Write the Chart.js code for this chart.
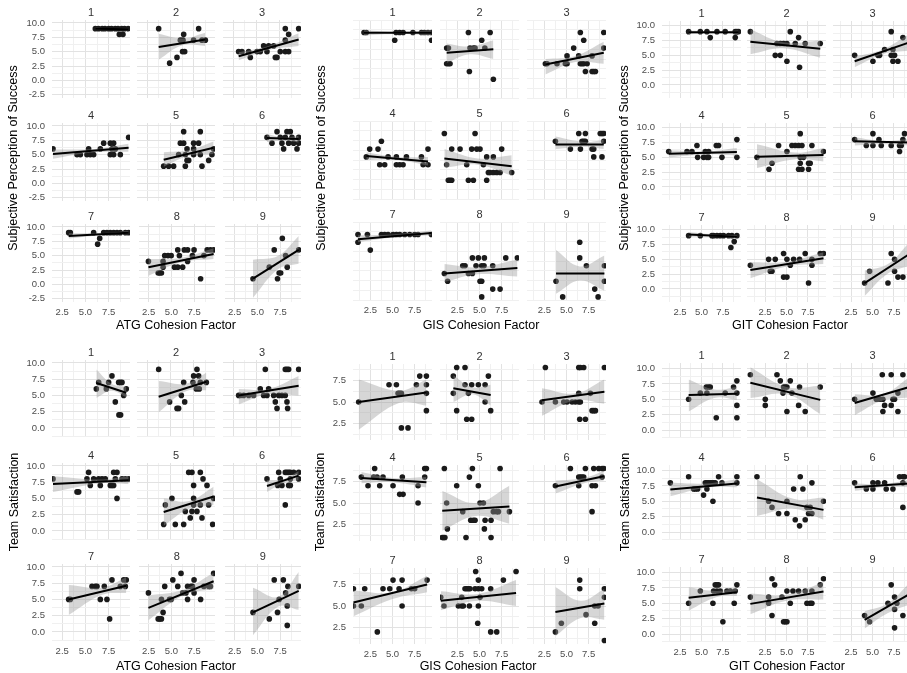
<!DOCTYPE html>
<html><head><meta charset="utf-8">
<script src="https://cdn.jsdelivr.net/npm/chart.js@4.4.1/dist/chart.umd.min.js"></script>
<style>
body{margin:0;background:#fff;width:907px;height:673px;overflow:hidden;position:relative;font-family:"Liberation Sans",Arial,sans-serif}
canvas{position:absolute}
.t{position:absolute;font-size:12.5px;color:#000;white-space:nowrap;line-height:1}
.yt{transform:translate(-50%,-50%) rotate(-90deg)}
.xt{transform:translate(-50%,-50%)}
</style></head><body>
<script>
// ---------------- DATA ----------------
const facets = ['1','2','3','4','5','6','7','8','9'];
const xTickLabels = [2.5, 5, 7.5];
const yTicksAtgSuccess = [-2.5, 0, 2.5, 5, 7.5, 10];
const yTicksGisSuccess = [2.5, 5, 7.5, 10];
const yTicksGitSuccess = [0, 2.5, 5, 7.5, 10];
const yTicksAtgTeam = [0, 2.5, 5, 7.5, 10];
const yTicksGisTeam = [2.5, 5, 7.5];
const yTicksGitTeam = [0, 2.5, 5, 7.5, 10];
const axisTitles = ['ATG Cohesion Factor','GIS Cohesion Factor','GIT Cohesion Factor','Subjective Perception of Success','Team Satisfaction'];

// ATG cohesion vs subjective perception of success
const atgSuccessPoints = [
 [[6.06,9],[6.4,9],[6.8,9],[7.1,9],[7.5,9],[7.8,9],[8.2,9],[8.5,9],[8.9,9],[9.2,9],[9.6,9],[8.64,8],[9.03,8]],
 [[3.73,9],[4.91,3],[5.7,4],[6.06,7],[6.35,7],[6.42,8],[6.53,5],[6.3,5],[7.49,7],[8.03,9],[8.39,7],[8.75,7]],
 [[3.08,5],[3.44,5],[4.16,5],[4.34,4],[5.06,5],[5.41,5],[5.77,6],[6.13,5],[6.31,6],[6.85,6],[7.03,4],[7.21,4],[7.56,5],[8.1,5],[8.46,5],[8.1,7],[8.1,9],[8.46,8],[9.54,9]],
 [[1.51,6],[4.09,5],[4.45,5],[5.16,5],[5.34,6],[5.52,5],[5.88,5],[6.6,6],[6.96,7],[7.67,7],[8.03,7],[7.85,6],[7.67,5],[8.03,5],[8.75,5],[8.21,6],[9.64,8]],
 [[4.27,3],[4.8,3],[5.34,3],[6.6,3],[8.39,3],[6.42,9],[8.21,9],[6.06,7],[6.42,7],[7.49,7],[8.03,7],[6.78,6],[7.49,6],[9.64,6],[5.88,5],[6.6,5],[7.49,5],[8.21,5],[9.46,5],[6.96,4],[9.11,4],[6.78,4]],
 [[6.13,8],[7.21,9],[6.67,7],[7.56,8],[7.74,7],[8.1,8],[8.28,9],[8.64,9],[8.46,7],[7.92,6],[8.82,8],[9.0,7],[9.36,6],[9.54,8],[9.54,7]],
 [[3.19,9],[3.37,9],[5.88,9],[6.53,8],[6.31,7],[6.96,9],[7.31,9],[7.67,9],[8.03,9],[8.39,9],[8.75,9],[9.29,9],[9.64,9]],
 [[2.48,4],[3.55,2],[3.73,2],[3.91,2],[4.09,4],[4.27,5],[4.09,3],[4.63,5],[4.98,5],[5.34,3],[5.7,6],[5.88,5],[5.7,3],[6.24,3],[6.42,6],[6.78,6],[6.78,4],[7.31,5],[7.49,6],[8.21,1],[8.93,6],[9.29,6],[9.64,6],[8.57,5]],
 [[4.52,1],[6.31,3],[6.85,6],[7.21,1],[7.39,2],[7.56,2],[7.74,8],[8.1,5],[8.28,3],[9.54,6]]
];
const atgSuccessLines = [
 [6.06,9.0,9.6,8.9],[3.73,5.8,8.75,7.1],[3.08,4.2,9.54,7.1],
 [1.51,5.1,9.64,6.2],[4.27,4.1,9.64,6.2],[6.13,7.9,9.54,7.7],
 [3.19,8.4,9.64,9.0],[2.48,3.0,9.64,5.3],[4.52,1.0,9.54,6.0]
];
const atgSuccessBands = [
 [[6.06,8.75,9.2],[7.8,8.85,9.05],[9.6,8.7,9.1]],
 [[3.73,3.6,8.1],[6.3,6.1,7.3],[8.75,6.0,8.3]],
 [[3.08,3.5,4.9],[6.3,5.3,6.0],[9.54,6.0,8.2]],
 [[1.51,4.3,5.9],[6.0,5.4,6.0],[9.64,5.5,6.9]],
 [[4.27,2.9,5.4],[7.0,4.8,5.8],[9.64,5.1,7.3]],
 [[6.13,7.2,8.6],[7.9,7.5,8.0],[9.54,7.1,8.3]],
 [[3.19,8.0,8.9],[7.0,8.6,8.95],[9.64,8.7,9.3]],
 [[2.48,1.5,4.4],[6.0,3.8,4.6],[9.64,4.4,6.3]],
 [[4.52,-2.3,4.3],[7.3,2.7,5.0],[9.54,3.6,8.4]]
];

// GIS cohesion vs subjective perception of success
const gisSuccessPoints = [
 [[1.79,9],[2.05,9],[5.25,8],[5.4,9],[5.8,9],[6.2,9],[7.3,9],[8.26,9],[8.6,9],[9.0,9],[9.4,9],[9.4,8]],
 [[1.3,7],[1.5,7],[1.3,5],[1.5,5],[1.68,5],[3.75,9],[3.86,4],[3.93,7],[4.3,7],[4.5,7],[5.25,8],[5.6,7],[6.2,9],[6.56,3]],
 [[2.62,5],[2.81,5],[3.93,5],[4.87,5],[5.06,6],[5.06,5],[5.81,7],[6.37,6],[6.56,9],[6.56,5],[6.75,5],[6.94,5],[6.94,8],[7.13,4],[7.32,5],[7.88,4],[8.07,4],[8.26,4],[7.88,6],[9.2,9],[9.2,7]],
 [[2.05,6],[2.43,7],[3.37,7],[3.75,8],[3.56,5],[4.12,5],[4.5,6],[5.44,5],[5.81,5],[6.19,5],[5.44,6],[6.57,6],[8.26,6],[8.45,5],[9.0,7],[9.0,5]],
 [[1.04,9],[1.3,5],[1.87,7],[2.81,7],[3.56,5],[4.5,9],[4.12,7],[4.69,7],[5.06,7],[5.81,6],[6.56,6],[7.5,7],[5.44,5],[1.49,3],[1.68,3],[1.87,3],[3.75,3],[4.31,3],[5.81,3],[6.0,4],[6.19,4],[6.56,4],[6.94,4],[7.32,4],[8.63,4]],
 [[3.75,8],[5.44,7],[6.57,7],[6.38,9],[7.13,9],[6.75,8],[6.94,8],[7.13,8],[7.88,7],[8.07,7],[8.07,6],[9.0,6],[8.8,9],[9.0,9],[9.2,9],[9.2,8]],
 [[1.11,9],[1.11,8],[2.17,9],[2.5,7],[3.75,9],[4.12,9],[4.5,9],[5.06,9],[5.44,9],[5.81,9],[6.38,9],[6.94,9],[7.5,9],[7.88,9],[9.38,9]],
 [[1.04,4],[1.41,3],[3.11,5],[3.37,5],[3.75,4],[4.2,4],[4.2,6],[4.61,5],[4.87,6],[5.06,3],[5.25,3],[5.25,1],[5.25,5],[5.51,5],[5.55,6],[6.49,5],[6.49,2],[7.32,2],[7.96,6],[9.27,6]],
 [[3.82,3],[4.57,1],[6.49,8],[6.49,6],[7.24,5],[8.18,2],[8.56,1],[9.27,5],[9.27,3]]
];
const gisSuccessLines = [
 [1.79,8.95,9.4,8.95],[1.3,6.4,6.56,6.85],[2.62,4.9,9.2,6.4],
 [2.05,6.1,9.0,5.4],[1.04,5.8,8.63,4.8],[3.75,7.6,9.2,7.6],
 [1.11,8.4,9.38,9.2],[1.04,4.0,9.27,4.7],[3.82,4.0,9.27,4.0]
];
const gisSuccessBands = [
 [[1.79,8.6,9.3],[5.6,8.8,9.1],[9.4,8.6,9.3]],
 [[1.3,5.1,7.6],[3.9,6.2,7.2],[6.56,5.6,8.0]],
 [[2.62,3.6,5.6],[6.0,5.2,6.0],[9.2,5.0,7.8]],
 [[2.05,5.6,6.6],[5.5,5.6,6.0],[9.0,4.9,6.0]],
 [[1.04,4.6,7.0],[4.8,5.0,5.8],[8.63,3.6,6.2]],
 [[3.75,7.0,8.6],[7.0,7.3,7.9],[9.2,7.0,8.2]],
 [[1.11,8.0,8.9],[5.0,8.6,9.0],[9.38,8.9,9.5]],
 [[1.04,2.9,5.2],[4.8,3.9,4.8],[9.27,3.6,5.8]],
 [[3.82,1.4,7.0],[6.5,3.1,4.9],[9.27,1.8,6.3]]
];

// GIT cohesion vs subjective perception of success
const gitSuccessPoints = [
 [[3.5,9],[4.86,9],[5.63,9],[6.02,8],[6.8,9],[7.76,9],[8.93,9],[9.12,9],[9.31,9],[8.93,8]],
 [[0.79,9],[3.69,5],[4.28,5],[5.05,4],[5.44,9],[6.52,3],[6.41,8],[3.89,7],[4.28,7],[4.66,7],[5.05,7],[6.02,7],[7.18,7],[8.93,7]],
 [[2.92,5],[5.05,4],[5.63,5],[5.83,5],[6.41,6],[7.18,9],[7.38,6],[7.18,5],[7.57,5],[7.38,4],[7.96,4],[8.54,8]],
 [[1.18,6],[3.31,6],[3.89,6],[4.47,7],[4.55,5],[5.24,5],[5.44,6],[5.63,5],[5.83,5],[5.83,6],[6.72,7],[6.99,7],[7.38,5],[9.12,8],[9.12,5]],
 [[1.56,5],[2.96,3],[3.31,4],[4.08,7],[5.05,6],[5.63,7],[6.02,7],[6.41,7],[6.8,7],[6.6,9],[6.6,5],[6.99,5],[6.6,4],[7.96,7],[9.31,6],[7.57,4],[7.76,4],[6.41,3],[6.8,3],[7.57,3]],
 [[2.92,8],[4.28,7],[5.05,9],[5.05,7],[5.75,8],[6.02,7],[7.18,7],[8.15,7],[8.35,7],[8.15,6],[8.54,8],[8.73,9]],
 [[3.5,9],[4.86,9],[6.21,9],[6.41,9],[6.8,9],[7.18,9],[7.57,9],[8.15,9],[8.54,9],[9.12,9],[8.81,8],[8.42,7]],
 [[0.79,4],[2.92,5],[3.11,3],[3.31,3],[3.69,5],[4.66,6],[4.66,2],[5.05,2],[5.05,5],[5.44,4],[5.83,5],[6.52,5],[7.18,6],[7.57,1],[7.96,4],[7.96,5],[8.93,6],[9.31,6]],
 [[4.08,1],[4.66,3],[6.8,1],[7.18,6],[7.57,5],[7.57,3],[7.96,2],[8.54,2]]
];
const gitSuccessLines = [
 [3.5,8.9,9.31,8.9],[0.79,7.3,8.93,6.1],[2.92,4.0,9.3,7.2],
 [1.18,5.6,9.12,5.9],[1.56,5.1,9.31,5.4],[2.92,7.7,9.3,7.5],
 [3.5,9.2,9.12,8.8],[0.79,3.2,9.31,5.2],[4.08,1.0,9.3,5.9]
];
const gitSuccessBands = [
 [[3.5,8.6,9.2],[6.5,8.75,9.05],[9.31,8.6,9.2]],
 [[0.79,5.2,9.4],[4.6,6.2,7.2],[8.93,4.6,7.5]],
 [[2.92,3.0,4.8],[6.2,5.2,6.0],[9.3,5.8,8.6]],
 [[1.18,5.0,6.2],[5.5,5.5,6.0],[9.12,5.3,6.6]],
 [[1.56,3.2,7.2],[6.0,4.7,5.8],[9.31,4.3,6.6]],
 [[2.92,7.0,8.4],[6.2,7.2,7.8],[9.3,7.0,8.1]],
 [[3.5,8.8,9.6],[6.8,8.85,9.15],[9.12,8.5,9.1]],
 [[0.79,1.8,4.5],[5.0,3.8,4.6],[9.31,4.2,6.2]],
 [[4.08,-1.2,3.1],[6.8,2.6,4.2],[9.3,3.9,7.9]]
];

// ATG cohesion vs team satisfaction
const atgTeamPoints = [
 [[6.17,6],[6.42,7],[7.24,6],[7.49,7],[7.85,8],[8.21,4],[8.57,7],[8.75,7],[8.93,7],[8.6,2],[8.78,2],[9.11,5],[9.39,6]],
 [[3.73,9],[4.91,4],[5.7,3],[5.88,3],[6.17,5],[6.42,7],[6.53,4],[7.42,7],[7.49,8],[7.85,9],[8.03,8],[7.78,6],[8.1,6],[8.21,7],[8.86,7]],
 [[3.08,5],[3.26,5],[3.62,5],[4.16,5],[4.7,5],[5.41,6],[5.77,5],[5.95,9],[6.13,5],[6.31,6],[6.85,5],[7.39,5],[7.74,5],[7.03,4],[7.21,3],[8.1,9],[8.28,9],[8.46,9],[8.1,5],[8.28,4],[8.35,3],[9.54,9]],
 [[1.51,8],[4.09,6],[4.27,6],[5.34,9],[5.16,8],[5.52,7],[5.88,8],[6.42,8],[6.6,7],[6.78,8],[7.13,8],[7.67,7],[7.85,7],[8.03,7],[8.03,9],[8.39,9],[8.21,8],[8.39,5],[8.93,8],[9.29,8],[9.64,8]],
 [[6.96,9],[7.31,9],[8.21,9],[8.5,8],[7.49,7],[8.93,7],[5.16,5],[7.49,5],[9.64,5],[4.27,1],[4.45,4],[5.52,1],[6.42,1],[6.6,3],[7.13,2],[7.31,3],[7.85,3],[7.49,4],[8.21,4],[9.11,4],[8.39,2],[9.54,1]],
 [[6.13,8],[7.28,7],[7.39,9],[7.56,8],[7.74,7],[8.1,9],[8.28,9],[8.46,9],[8.64,9],[8.46,7],[8.64,7],[8.64,8],[9.0,9],[9.54,9],[9.54,8],[8.1,4]],
 [[3.19,5],[3.37,5],[5.7,7],[6.06,7],[6.24,7],[6.6,5],[7.03,7],[7.31,5],[7.6,2],[7.85,8],[8.75,7],[9.11,8],[9.39,8],[9.29,7]],
 [[2.48,6],[3.55,2],[3.73,2],[3.91,2],[4.09,3],[4.27,7],[3.91,5],[4.8,5],[4.98,5],[5.16,8],[5.7,7],[6.06,9],[6.24,6],[6.6,6],[6.78,5],[6.78,7],[7.13,7],[7.31,7],[7.49,8],[7.49,6],[8.21,5],[8.57,7],[9.11,7],[9.29,7],[9.64,9]],
 [[4.52,3],[6.31,2],[6.85,8],[7.21,3],[7.39,5],[7.85,8],[8.1,6],[8.28,4],[8.28,1],[8.35,7],[9.54,7]]
];
const atgTeamLines = [
 [6.17,6.9,9.39,5.4],[3.73,4.8,8.86,7.1],[3.08,5.0,9.54,6.5],
 [1.51,7.2,9.64,7.8],[4.27,2.9,9.64,5.3],[6.13,6.9,9.54,8.5],
 [3.19,5.0,9.39,7.1],[2.48,3.7,9.64,7.8],[4.52,3.0,9.54,6.3]
];
const atgTeamBands = [
 [[6.17,4.6,9.0],[7.8,5.7,6.8],[9.39,4.7,6.3]],
 [[3.73,2.4,7.2],[6.6,5.6,6.8],[8.86,5.8,8.5]],
 [[3.08,3.6,6.0],[6.3,5.2,6.0],[9.54,5.0,8.0]],
 [[1.51,6.0,8.4],[6.5,7.3,7.9],[9.64,7.2,8.4]],
 [[4.27,0.8,5.0],[7.0,3.4,4.6],[9.64,4.0,6.8]],
 [[6.13,6.0,7.8],[8.0,7.4,8.0],[9.54,7.8,9.2]],
 [[3.19,2.6,7.2],[6.8,5.7,6.8],[9.39,6.0,8.4]],
 [[2.48,1.8,5.6],[6.3,5.6,6.5],[9.64,6.6,9.1]],
 [[4.52,-0.5,6.8],[7.3,3.9,5.4],[9.54,3.4,9.2]]
];

// GIS cohesion vs team satisfaction
const gisTeamPoints = [
 [[1.19,5],[4.61,7],[5.44,7],[5.63,6],[5.81,6],[6.0,6],[6.0,2],[6.75,2],[7.69,7],[8.07,8],[8.82,8],[8.82,7],[8.82,6],[8.82,4]],
 [[2.05,8],[2.43,9],[3.37,9],[2.05,6],[2.43,4],[3.37,7],[3.75,6],[3.56,3],[4.12,3],[4.12,7],[4.87,7],[5.63,7],[5.63,5],[6.0,8],[6.26,4]],
 [[2.24,5],[2.62,9],[3.75,5],[4.69,5],[5.06,5],[5.63,5],[6.0,5],[6.38,5],[6.56,5],[6.38,6],[6.38,9],[6.56,9],[6.94,9],[6.49,3],[7.13,3],[7.69,6],[7.88,4],[8.07,4],[8.26,4],[9.27,9]],
 [[1.49,8],[2.24,7],[2.99,9],[2.88,8],[3.26,8],[3.56,7],[3.93,8],[5.06,7],[5.81,6],[6.19,6],[6.11,8],[7.88,7],[8.63,9],[8.82,9],[8.63,8],[7.88,5]],
 [[1.04,9],[2.43,7],[3.86,8],[4.2,9],[4.87,7],[7.32,9],[0.8,1],[0.95,1],[1.1,1],[1.3,5],[1.38,2],[3.11,4],[3.48,1],[4.01,3],[4.31,3],[4.5,3],[5.06,5],[5.44,5],[5.55,2],[5.63,3],[6.3,3],[6.3,1],[6.56,4],[6.94,4],[7.13,4],[8.37,4]],
 [[3.75,7],[5.44,9],[6.38,8],[6.56,8],[6.75,8],[6.94,8],[6.38,7],[7.13,9],[7.88,7],[8.26,7],[8.07,9],[8.63,9],[9.01,9],[9.2,9],[9.01,8],[7.88,4]],
 [[0.6,7],[0.6,5],[1.49,5],[1.87,7],[3.29,2],[3.93,7],[4.69,7],[5.06,8],[5.74,7],[6.08,8],[6.08,5],[7.13,7],[7.5,7],[8.9,8]],
 [[0.63,6],[1.0,5],[2.62,5],[3.0,5],[3.18,5],[3.0,6],[3.37,7],[3.56,7],[3.75,7],[3.93,7],[3.86,5],[4.5,7],[4.57,9],[4.87,8],[4.87,5],[4.87,7],[4.8,3],[5.25,7],[5.06,6],[6.26,7],[6.26,2],[6.94,2],[7.69,8],[9.12,9]],
 [[3.75,2],[4.42,3],[6.49,8],[6.49,7],[7.2,4],[8.18,5],[8.56,5],[8.18,3],[9.27,7],[9.27,6],[9.27,1]]
];
const gisTeamLines = [
 [1.19,5.0,8.82,6.1],[2.05,6.6,6.26,5.8],[2.24,5.2,9.27,6.2],
 [1.49,7.9,8.82,7.4],[0.8,4.1,8.37,4.6],[3.75,6.9,9.2,8.1],
 [0.6,5.4,8.9,7.5],[0.63,5.6,9.12,6.5],[3.75,4.3,9.27,5.3]
];
const gisTeamBands = [
 [[1.19,1.8,7.6],[5.8,4.9,6.3],[8.82,4.6,7.6]],
 [[2.05,5.0,8.1],[4.2,5.9,6.7],[6.26,4.6,7.0]],
 [[2.24,3.4,6.6],[6.0,5.2,6.0],[9.27,4.8,7.6]],
 [[1.49,7.3,8.6],[5.0,7.4,7.9],[8.82,6.8,8.0]],
 [[0.8,1.8,6.4],[4.6,3.5,5.0],[8.37,2.6,7.0]],
 [[3.75,6.1,7.6],[7.0,7.3,7.9],[9.2,7.6,8.7]],
 [[0.6,3.8,6.8],[5.0,5.8,6.6],[8.9,6.6,8.5]],
 [[0.63,4.5,6.7],[4.8,5.6,6.4],[9.12,5.0,8.0]],
 [[3.75,1.5,7.2],[6.6,3.6,5.6],[9.27,3.4,7.0]]
];

// GIT cohesion vs team satisfaction
const gitTeamPoints = [
 [[3.5,5],[4.86,6],[5.56,7],[5.83,7],[6.02,7],[5.63,6],[6.72,2],[7.76,6],[8.73,7],[9.12,8],[9.12,6],[9.12,4],[9.12,2]],
 [[0.79,9],[2.53,5],[2.53,4],[3.89,9],[4.28,8],[4.66,7],[4.86,7],[4.59,6],[5.05,7],[5.05,3],[5.44,8],[5.63,6],[6.41,4],[6.52,7],[7.18,3],[8.93,7]],
 [[2.92,5],[5.05,6],[5.44,5],[5.63,5],[5.83,5],[6.14,9],[6.21,3],[6.21,5],[6.41,4],[7.18,9],[7.18,4],[7.38,5],[7.57,5],[7.96,3],[7.96,6],[8.54,9]],
 [[1.37,8],[3.5,9],[4.08,7],[4.28,7],[4.55,7],[5.24,6],[5.44,8],[5.63,8],[5.83,8],[6.02,8],[6.21,8],[6.41,8],[6.6,8],[5.63,7],[6.99,9],[7.38,8],[9.12,9],[9.12,8],[6.33,5]],
 [[1.56,9],[5.83,7],[6.6,9],[6.91,7],[7.96,8],[2.92,5],[3.31,4],[4.08,3],[5.05,5],[5.05,3],[6.02,2],[6.52,1],[7.18,2],[7.38,4],[7.76,4],[7.57,3],[7.96,3],[9.31,5]],
 [[2.92,8],[4.28,7],[5.05,8],[5.05,7],[5.63,8],[6.41,8],[6.6,7],[7.38,7],[8.15,9],[8.54,9],[8.73,9],[8.54,8],[8.54,4]],
 [[3.5,5],[4.86,7],[6.33,5],[6.41,7],[6.8,7],[6.6,8],[6.8,8],[6.99,8],[7.18,7],[7.49,2],[7.96,7],[8.35,7],[8.81,5],[9.12,8],[8.93,7]],
 [[0.79,6],[2.92,6],[2.92,5],[3.31,9],[3.31,3],[3.62,8],[4.47,6],[4.66,2],[4.86,2],[5.05,2],[5.05,7],[5.44,5],[5.75,7],[6.41,7],[7.18,7],[7.38,5],[7.76,5],[7.96,5],[7.96,7],[8.93,8],[9.31,9]],
 [[4.08,3],[4.66,2],[6.8,5],[7.18,8],[7.57,6],[7.57,4],[7.57,1],[7.84,5],[8.54,3]]
];
const gitTeamLines = [
 [3.5,5.7,9.12,5.9],[0.79,7.7,8.93,4.9],[2.92,4.4,9.3,7.0],
 [1.37,6.9,9.12,7.9],[1.56,5.6,9.31,3.6],[2.92,7.3,9.3,7.9],
 [3.5,5.9,9.12,6.8],[0.79,4.9,9.31,6.9],[4.08,2.3,9.3,6.5]
];
const gitTeamBands = [
 [[3.5,3.0,8.2],[6.5,5.2,6.6],[9.12,4.9,7.0]],
 [[0.79,5.2,10.2],[5.0,5.8,7.0],[8.93,2.6,7.2]],
 [[2.92,2.4,5.8],[6.2,4.8,5.8],[9.3,5.3,8.6]],
 [[1.37,5.8,8.0],[5.5,7.2,7.9],[9.12,7.3,8.6]],
 [[1.56,2.6,8.6],[5.8,3.8,5.4],[9.31,2.0,5.6]],
 [[2.92,6.7,7.9],[6.2,7.3,7.8],[9.3,7.3,8.5]],
 [[3.5,3.8,7.6],[6.8,6.0,7.0],[9.12,6.2,7.6]],
 [[0.79,3.2,6.6],[5.0,5.4,6.4],[9.31,5.6,8.4]],
 [[4.08,0.9,3.7],[6.8,3.4,5.0],[9.3,4.8,8.3]]
];

// ---------------- LAYOUT ----------------
const FONT = '"Liberation Sans", Arial, sans-serif';
const panels = [
 {pts:atgSuccessPoints, lines:atgSuccessLines, bands:atgSuccessBands, yTicks:yTicksAtgSuccess, x:[1.4,9.79], y:[-3.05,10.5], cols:[52,137,223], w:78, rows:[20,123,224], h:78},
 {pts:gisSuccessPoints, lines:gisSuccessLines, bands:gisSuccessBands, yTicks:yTicksGisSuccess, x:[0.55,9.45], y:[0.6,10.6], cols:[353,440,527], w:79, rows:[20,121,222], h:78},
 {pts:gitSuccessPoints, lines:gitSuccessLines, bands:gitSuccessBands, yTicks:yTicksGitSuccess, x:[0.4,9.6], y:[-2.2,10.8], cols:[662,747,833], w:79, rows:[21,123,225], h:77},
 {pts:atgTeamPoints, lines:atgTeamLines, bands:atgTeamBands, yTicks:yTicksAtgTeam, x:[1.4,9.79], y:[-1.4,10.45], cols:[52,137,223], w:78, rows:[360,463,564], h:77},
 {pts:gisTeamPoints, lines:gisTeamLines, bands:gisTeamBands, yTicks:yTicksGisTeam, x:[0.55,9.45], y:[0.6,9.4], cols:[353,440,527], w:79, rows:[364,465,568], h:76},
 {pts:gitTeamPoints, lines:gitTeamLines, bands:gitTeamBands, yTicks:yTicksGitTeam, x:[0.4,9.6], y:[-1.3,10.9], cols:[662,747,833], w:79, rows:[363,465,567], h:75}
];

const inList = (list, v) => list.some(t => Math.abs(t - v) < 1e-6);
const isMajor = v => Math.abs(v / 2.5 - Math.round(v / 2.5)) < 1e-6;
const gridColor = c => (c.tick && isMajor(c.tick.value)) ? '#e2e2e2' : '#f0f0f0';

const stripPlugin = {
  id: 'strip',
  afterDraw(chart, args, opts) {
    const a = chart.chartArea, ctx = chart.ctx;
    ctx.save();
    ctx.font = '11px ' + FONT;
    ctx.fillStyle = '#333';
    ctx.textAlign = 'center';
    ctx.textBaseline = 'middle';
    ctx.fillText(opts.label, (a.left + a.right) / 2, a.top - 7);
    ctx.restore();
  }
};

function makeFacet(p, i) {
  const col = i % 3, row = Math.floor(i / 3);
  const isLeft = col === 0, isBottom = row === 2;
  const LM = isLeft ? 40 : 0, TM = 16, BM = 18;
  const w = p.w + LM, h = TM + p.h + BM;
  const cv = document.createElement('canvas');
  cv.width = w; cv.height = h;
  cv.style.left = (p.cols[col] - LM) + 'px';
  cv.style.top = (p.rows[row] - TM) + 'px';
  cv.style.width = w + 'px'; cv.style.height = h + 'px';
  document.body.appendChild(cv);
  const band = p.bands[i], ln = p.lines[i];
  new Chart(cv, {
    type: 'scatter',
    plugins: [stripPlugin],
    data: { datasets: [
      { type:'line', data: band.map(b => ({x:b[0], y:b[2]})), borderWidth:0, borderColor:'rgba(0,0,0,0)', pointRadius:0, fill:'+1', backgroundColor:'rgba(153,153,153,0.4)', tension:0.4, order:2 },
      { type:'line', data: band.map(b => ({x:b[0], y:b[1]})), borderWidth:0, borderColor:'rgba(0,0,0,0)', pointRadius:0, fill:false, tension:0.4, order:2 },
      { type:'line', data: [{x:ln[0], y:ln[1]}, {x:ln[2], y:ln[3]}], borderColor:'#000', borderWidth:2, pointRadius:0, fill:false, order:1 },
      { type:'scatter', data: p.pts[i].map(q => ({x:q[0], y:q[1]})), pointRadius:2.8, pointBackgroundColor:'#1a1a1a', backgroundColor:'#1a1a1a', pointBorderWidth:0, borderWidth:0, order:3 }
    ]},
    options: {
      responsive:false, animation:false, devicePixelRatio:1,
      events: [],
      layout: { padding:{top:TM, left:0, right:0, bottom:0}, autoPadding:false },
      plugins: { legend:{display:false}, tooltip:{enabled:false}, strip:{label: facets[i]} },
      scales: {
        x: { type:'linear', min:p.x[0], max:p.x[1], border:{display:false},
             grid:{ color:gridColor, lineWidth:1, drawTicks:false },
             ticks:{ display:isBottom, stepSize:1.25, autoSkip:false, maxRotation:0, includeBounds:false, maxTicksLimit:100, padding:5,
                     color:'#4d4d4d', font:{size:9.5, family:FONT},
                     callback: v => inList(xTickLabels, v) ? v.toFixed(1) : '' },
             afterFit: s => { s.height = BM; } },
        y: { type:'linear', min:p.y[0], max:p.y[1], border:{display:false},
             grid:{ color:gridColor, lineWidth:1, drawTicks:false },
             ticks:{ display:isLeft, stepSize:1.25, autoSkip:false, includeBounds:false, maxTicksLimit:100, padding:7,
                     color:'#4d4d4d', font:{size:9.5, family:FONT},
                     callback: v => inList(p.yTicks, v) ? v.toFixed(1) : '' },
             afterFit: s => { s.width = LM; } }
      }
    }
  });
}

panels.forEach(p => { for (let i = 0; i < 9; i++) makeFacet(p, i); });

function addText(txt, x, y, rotate) {
  const d = document.createElement('div');
  d.className = 't ' + (rotate ? 'yt' : 'xt');
  d.textContent = txt;
  d.style.left = x + 'px'; d.style.top = y + 'px';
  document.body.appendChild(d);
}
addText(axisTitles[0], 176, 325, false);
addText(axisTitles[1], 481, 325, false);
addText(axisTitles[2], 790, 325, false);
addText(axisTitles[0], 176, 666, false);
addText(axisTitles[1], 478, 666, false);
addText(axisTitles[2], 787, 666, false);
addText(axisTitles[3], 13, 158, true);
addText(axisTitles[3], 321, 158, true);
addText(axisTitles[3], 624, 158, true);
addText(axisTitles[4], 14, 502, true);
addText(axisTitles[4], 320, 502, true);
addText(axisTitles[4], 625, 502, true);
</script>
</body></html>
